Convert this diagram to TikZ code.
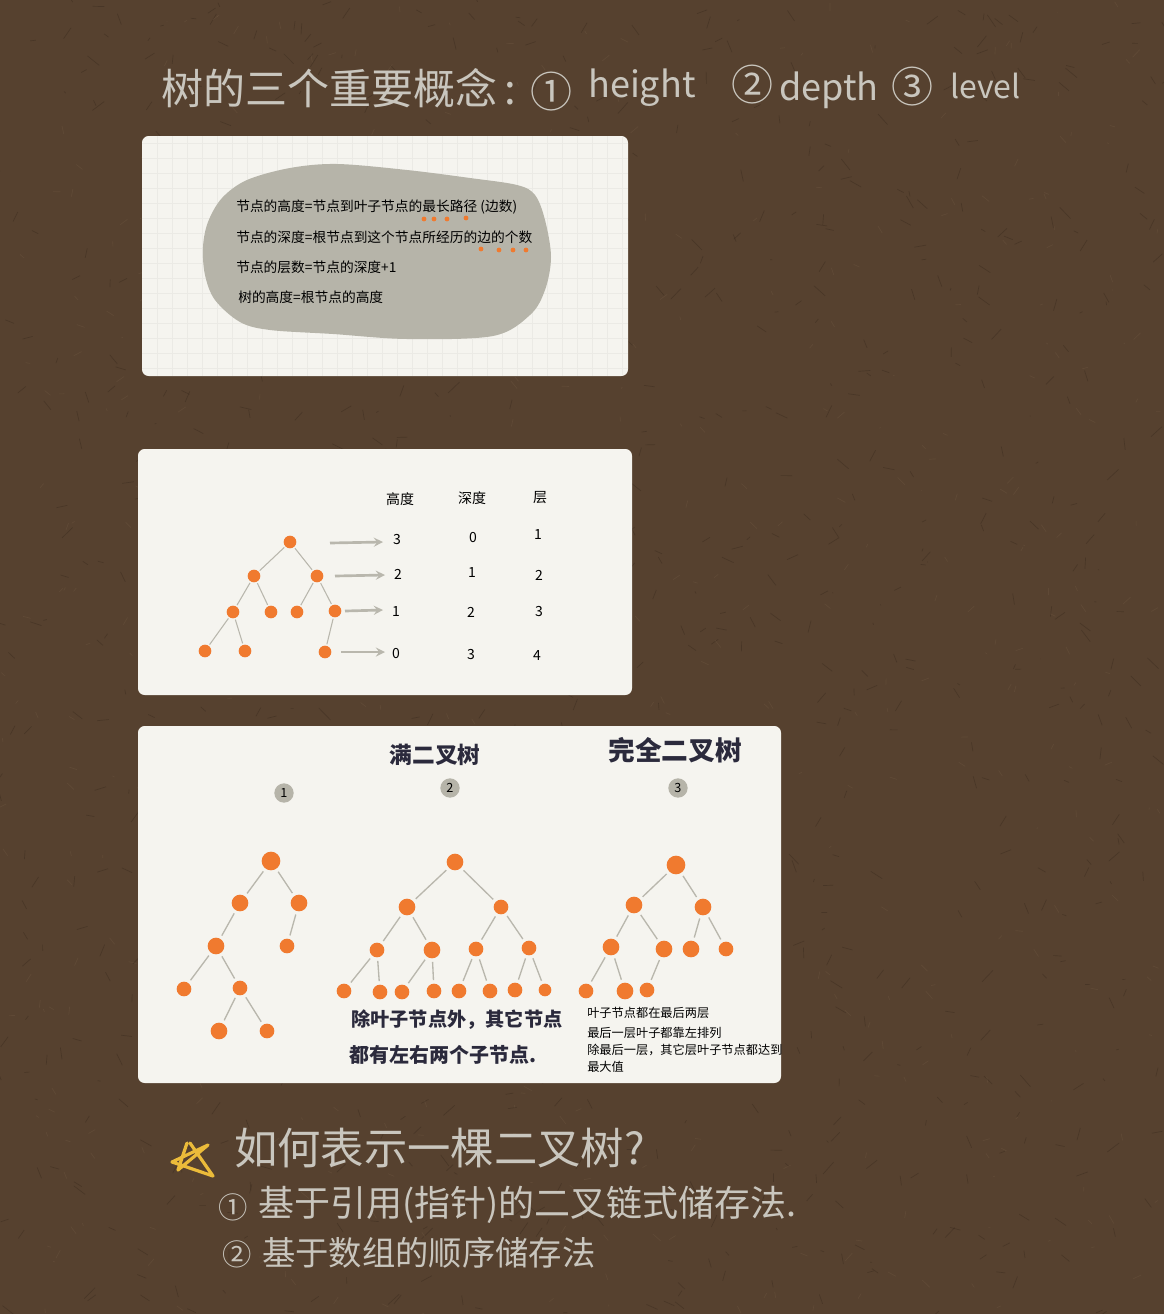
\documentclass[tikz,border=0pt]{standalone}
\usepackage{fontspec}
\setmainfont{Noto Sans CJK SC}
\usepackage{tikz}

\definecolor{paper}{HTML}{56412F}
\definecolor{fibre}{HTML}{35271B}
\definecolor{glint}{HTML}{6E5742}
\definecolor{chalk}{HTML}{C9C6BE}
\definecolor{card}{HTML}{F5F4EF}
\definecolor{gridc}{HTML}{EBEAE5}
\definecolor{blob}{HTML}{B6B4A9}
\definecolor{fruit}{HTML}{F07A2F}
\definecolor{inkc}{HTML}{2B2A3C}
\definecolor{edgec}{HTML}{B9B7AD}
\definecolor{starc}{HTML}{EBBB3A}

\tikzset{
  cardbox/.style={fill=card, rounded corners=5pt},
  big/.style={text=chalk, inner sep=0, font=\fontsize{31.5}{34}\selectfont},
  wordy/.style={text=chalk, inner sep=0, font=\fontsize{27}{30}\selectfont},
  mid/.style={text=chalk, inner sep=0, font=\fontsize{27}{30}\selectfont},
  low/.style={text=chalk, inner sep=0, font=\fontsize{25}{28}\selectfont},
  ring/.style={text=chalk, inner sep=0, font=\fontsize{22}{24}\selectfont},
  note/.style={text=black, inner sep=0, anchor=west, font=\fontsize{10.3}{12}\selectfont},
  cell/.style={text=black, inner sep=0, font=\fontsize{10.5}{12}\selectfont},
  say/.style={text=black, inner sep=0, anchor=west, font=\fontsize{9.15}{11}\selectfont},
  hand/.style={text=inkc, inner sep=0, font=\bfseries\fontsize{14.4}{16}\selectfont},
  badge/.style={circle, fill=blob, text=black, inner sep=0, minimum size=14.5pt, font=\fontsize{9.5}{10}\selectfont},
  d0/.style={circle, fill=fruit, inner sep=0, minimum size=14pt},
  d1/.style={circle, fill=fruit, inner sep=0, minimum size=12.5pt},
  d2/.style={circle, fill=fruit, inner sep=0, minimum size=11pt},
  d3/.style={circle, fill=fruit, inner sep=0, minimum size=9.5pt},
  tiny/.style={circle, fill=fruit, inner sep=0, minimum size=3.6pt},
  limb/.style={edgec, line width=1pt, shorten >=2.5pt, shorten <=2.5pt},
  twig/.style={edgec, line width=.8pt, shorten >=1pt, shorten <=1pt},
  pointer/.style={edgec, line width=2pt, -stealth},
}

\begin{document}
\begin{tikzpicture}[x=.75pt, y=-.75pt]

\useasboundingbox (0,0) rectangle (1164,1314);
\fill[paper] (0,0) rectangle (1164,1314);

% paper texture
\pgfmathsetseed{7}
\begin{scope}
\clip (0,0) rectangle (1164,1314);
\foreach \i in {1,...,900}
  \draw[fibre, opacity=.4, line width=.5pt] ({rnd*1164},{rnd*1314}) -- ++({rnd*24-12},{rnd*24-12});
\foreach \i in {1,...,500}
  \draw[glint, opacity=.4, line width=.5pt] ({rnd*1164},{rnd*1314}) -- ++({rnd*16-8},{rnd*16-8});
\end{scope}

% title
\node[big, anchor=west] (title) at (161,88) {树的三个重要概念\,:};
\node[big] (c1) at (551,92) {①};
\node[wordy, anchor=west] (w1) at (588,88) {height};
\node[big] (c2) at (752,85) {②};
\node[wordy, anchor=west] (w2) at (779,90) {depth};
\node[big] (c3) at (912,87) {③};
\node[wordy, anchor=west, font=\fontsize{24}{26}\selectfont] (w3) at (950,86) {level};

% first card
\fill[cardbox] (142,136) rectangle (628,376);
\begin{scope}
\clip[rounded corners=5pt] (142,136) rectangle (628,376);
\foreach \x in {157,172,...,628}
  \draw[gridc, line width=.5pt] (\x,136) -- (\x,376);
\foreach \y in {143,158,...,376}
  \draw[gridc, line width=.5pt] (142,\y) -- (628,\y);
\end{scope}
\fill[blob] plot[smooth cycle, tension=.55] coordinates {(337,164) (407,170) (470,178) (517,185) (535,195) (545,220) (551,257) (545,290) (530,315) (493,336) (407,339) (333,334) (270,330) (240,322) (215,300) (205,275) (203,247) (208,222) (222,198) (247,180) (290,168)};

\node[note] (l1) at (236,207) {节点的高度=节点到叶子节点的最长路径 (边数)};
\node[note] (l2) at (236,237) {节点的深度=根节点到这个节点所经历的边的个数};
\node[note] (l3) at (236,267) {节点的层数=节点的深度+1};
\node[note] (l4) at (238,297) {树的高度=根节点的高度};

\foreach \x/\y/\k in {424/219/a,434/219/b,447/219/c,466/218/d,481/249/e,499/250/f,513/250/g,526/250/h}
  \node[tiny] (m\k) at (\x,\y) {};

% second card
\fill[cardbox] (138,449) rectangle (632,695);

\node[d3] (a0) at (290,542) {};
\node[d3] (a1) at (254,576) {};
\node[d3] (a2) at (317,576) {};
\node[d3] (a3) at (233,612) {};
\node[d3] (a4) at (271,612) {};
\node[d3] (a5) at (297,612) {};
\node[d3] (a6) at (335,611) {};
\node[d3] (a7) at (205,651) {};
\node[d3] (a8) at (245,651) {};
\node[d3] (a9) at (325,652) {};

\draw[twig] (a0) -- (a1);
\draw[twig] (a0) -- (a2);
\draw[twig] (a1) -- (a3);
\draw[twig] (a1) -- (a4);
\draw[twig] (a2) -- (a5);
\draw[twig] (a2) -- (a6);
\draw[twig] (a3) -- (a7);
\draw[twig] (a3) -- (a8);
\draw[twig] (a6) -- (a9);

\coordinate (p1) at (330,543);
\coordinate (q1) at (383,542);
\coordinate (p2) at (335,576);
\coordinate (q2) at (385,575);
\coordinate (p3) at (345,611);
\coordinate (q3) at (383,610);
\coordinate (p4) at (341,652);
\coordinate (q4) at (385,652);
\draw[pointer] (p1) -- (q1);
\draw[pointer] (p2) -- (q2);
\draw[pointer] (p3) -- (q3);
\draw[pointer] (p4) -- (q4);

\node[cell] (h0) at (400,499) {高度};
\node[cell] (h1) at (472,498) {深度};
\node[cell] (h2) at (540,498) {层};
\node[cell] (v00) at (397,540) {3};
\node[cell] (v01) at (473,538) {0};
\node[cell] (v02) at (538,535) {1};
\node[cell] (v10) at (398,574) {2};
\node[cell] (v11) at (472,573) {1};
\node[cell] (v12) at (539,575) {2};
\node[cell] (v20) at (396,612) {1};
\node[cell] (v21) at (471,612) {2};
\node[cell] (v22) at (539,612) {3};
\node[cell] (v30) at (396,653) {0};
\node[cell] (v31) at (471,654) {3};
\node[cell] (v32) at (537,655) {4};

% third card
\fill[cardbox] (138,726) rectangle (781,1083);

\node[hand, font=\bfseries\fontsize{17}{19}\selectfont] (t2) at (435,755) {满二叉树};
\node[hand, font=\bfseries\fontsize{20}{22}\selectfont] (t3) at (675,750) {完全二叉树};
\node[badge] (b1) at (284,793) {1};
\node[badge] (b2) at (450,788) {2};
\node[badge] (b3) at (678,788) {3};

% tree one
\node[d0] (n0) at (271,861) {};
\node[d1] (n1) at (240,903) {};
\node[d1] (n2) at (299,903) {};
\node[d1] (n3) at (216,946) {};
\node[d2] (n4) at (287,946) {};
\node[d2] (n5) at (184,989) {};
\node[d2] (n6) at (240,988) {};
\node[d1] (n7) at (219,1031) {};
\node[d2] (n8) at (267,1031) {};

\draw[limb] (n0) -- (n1);
\draw[limb] (n0) -- (n2);
\draw[limb] (n1) -- (n3);
\draw[limb] (n2) -- (n4);
\draw[limb] (n3) -- (n5);
\draw[limb] (n3) -- (n6);
\draw[limb] (n6) -- (n7);
\draw[limb] (n6) -- (n8);

% tree two
\node[d1] (f0) at (455,862) {};
\node[d1] (f1) at (407,907) {};
\node[d2] (f2) at (501,907) {};
\node[d2] (f3) at (377,950) {};
\node[d1] (f4) at (432,950) {};
\node[d2] (f5) at (476,949) {};
\node[d2] (f6) at (529,948) {};
\node[d2] (f7) at (344,991) {};
\node[d2] (f8) at (380,992) {};
\node[d2] (f9) at (402,992) {};
\node[d2] (f10) at (434,991) {};
\node[d2] (f11) at (459,991) {};
\node[d2] (f12) at (490,991) {};
\node[d2] (f13) at (515,990) {};
\node[d3] (f14) at (545,990) {};

\draw[limb] (f0) -- (f1);
\draw[limb] (f0) -- (f2);
\draw[limb] (f1) -- (f3);
\draw[limb] (f1) -- (f4);
\draw[limb] (f2) -- (f5);
\draw[limb] (f2) -- (f6);
\draw[limb] (f3) -- (f7);
\draw[limb] (f3) -- (f8);
\draw[limb] (f4) -- (f9);
\draw[limb] (f4) -- (f10);
\draw[limb] (f5) -- (f11);
\draw[limb] (f5) -- (f12);
\draw[limb] (f6) -- (f13);
\draw[limb] (f6) -- (f14);

% tree three
\node[d0] (g0) at (676,865) {};
\node[d1] (g1) at (634,905) {};
\node[d1] (g2) at (703,907) {};
\node[d1] (g3) at (611,947) {};
\node[d1] (g4) at (664,949) {};
\node[d1] (g5) at (691,949) {};
\node[d2] (g6) at (726,949) {};
\node[d2] (g7) at (586,991) {};
\node[d1] (g8) at (625,991) {};
\node[d2] (g9) at (647,990) {};

\draw[limb] (g0) -- (g1);
\draw[limb] (g0) -- (g2);
\draw[limb] (g1) -- (g3);
\draw[limb] (g1) -- (g4);
\draw[limb] (g2) -- (g5);
\draw[limb] (g2) -- (g6);
\draw[limb] (g3) -- (g7);
\draw[limb] (g3) -- (g8);
\draw[limb] (g4) -- (g9);

\node[hand, anchor=west] (s1) at (351,1020) {除叶子节点外，其它节点};
\node[hand, anchor=west, font=\bfseries\fontsize{15}{17}\selectfont] (s2) at (349,1055) {都有左右两个子节点.};

\node[say] (k1) at (587,1013) {叶子节点都在最后两层};
\node[say] (k2) at (587,1033) {最后一层叶子都靠左排列};
\node[say] (k3) at (587,1050) {除最后一层，其它层叶子节点都达到};
\node[say] (k4) at (587,1067) {最大值};

% bottom notes
\draw[starc, line width=2.4pt, line cap=round, line join=round] (187,1143) -- (178,1170) -- (208,1145) -- (172,1162) -- (213,1176) -- (190,1143);
\node[big, anchor=west, font=\fontsize{32.5}{35}\selectfont] (q0) at (234,1148) {如何表示一棵二叉树?};
\node[ring] (o1) at (233,1207) {①};
\node[mid, anchor=west] (q5) at (258,1205) {基于引用(指针)的二叉链式储存法.};
\node[ring] (o2) at (237,1254) {②};
\node[low, anchor=west] (q6) at (262,1253) {基于数组的顺序储存法};

\end{tikzpicture}
\end{document}
